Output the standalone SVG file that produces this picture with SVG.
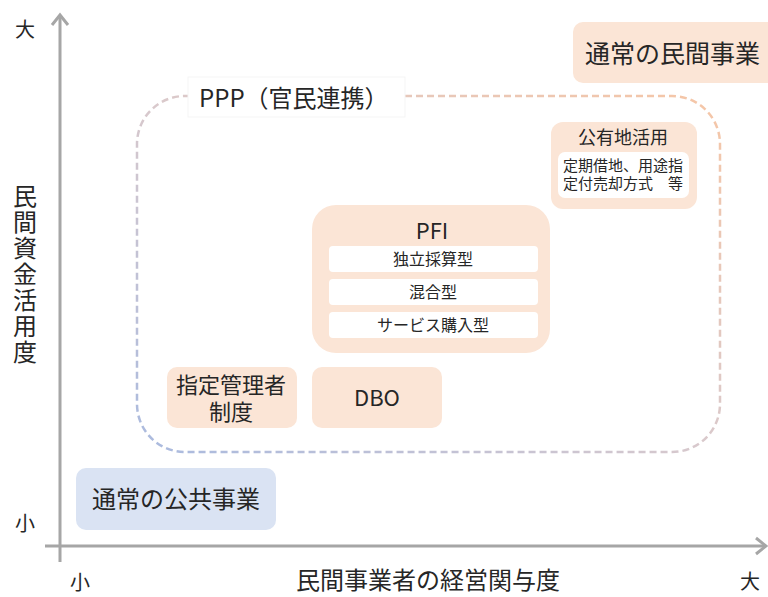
<svg xmlns="http://www.w3.org/2000/svg" width="768" height="597" viewBox="0 0 768 597">
<defs>
<style>
text{font-family:"Noto Sans CJK JP","Noto Sans",sans-serif;fill:#262626;}
.peach{fill:#fbe5d6;}
.blue{fill:#dae3f3;}
.white{fill:#ffffff;}
.axis{stroke:#a6a6a6;stroke-width:3;fill:none;}
.c{text-anchor:middle;}
</style>
<linearGradient id="pppGrad" x1="0" y1="1" x2="1" y2="0">
<stop offset="0" stop-color="#a9badf"/>
<stop offset="0.5" stop-color="#d9c9cc"/>
<stop offset="1" stop-color="#f6c6a6"/>
</linearGradient>
</defs>
<g id="connectors">
<line class="axis" x1="60" y1="562" x2="60" y2="15"/>
<polyline class="axis" points="52,25 60,15 68,25"/>
<line class="axis" x1="45" y1="546" x2="766" y2="546"/>
<polyline class="axis" points="756,538 766,546 756,554"/>
</g>
<g id="axis-labels">
<text x="25" y="37" class="c" font-size="20">大</text>
<text x="25" y="531" class="c" font-size="20">小</text>
<text x="80" y="590" class="c" font-size="20">小</text>
<text x="750" y="589" class="c" font-size="20">大</text>
<text x="428" y="589" class="c" font-size="24">民間事業者の経営関与度</text>
<text x="25" y="184" font-size="24" writing-mode="vertical-rl" letter-spacing="2">民間資金活用度</text>
</g>
<g id="ppp">
<rect x="137" y="96" width="583" height="356" rx="48" fill="none" stroke="url(#pppGrad)" stroke-width="2.5" stroke-dasharray="7,4"/>
<rect x="188" y="77" width="217" height="40" fill="#ffffff" stroke="#f5f5f5" stroke-width="1"/>
<text x="199" y="107" font-size="24">PPP（官民連携）</text>
</g>
<g id="private">
<rect class="peach" x="573" y="22" width="220" height="61" rx="10"/>
<text x="585" y="63" font-size="25">通常の民間事業</text>
</g>
<g id="public-land">
<rect class="peach" x="551" y="122" width="146" height="87" rx="12"/>
<text x="623" y="144" class="c" font-size="18">公有地活用</text>
<rect class="white" x="558" y="152" width="131" height="46" rx="7"/>
<text class="c" font-size="15"><tspan x="623" y="171">定期借地、用途指</tspan><tspan x="623" y="189">定付売却方式　等</tspan></text>
</g>
<g id="pfi">
<rect class="peach" x="312" y="205" width="238" height="148" rx="24"/>
<text x="432" y="239" class="c" font-size="22">PFI</text>
<rect class="white" x="329" y="246" width="209" height="26" rx="4"/>
<text x="433" y="265" class="c" font-size="16">独立採算型</text>
<rect class="white" x="329" y="279" width="209" height="26" rx="4"/>
<text x="433" y="298" class="c" font-size="16">混合型</text>
<rect class="white" x="329" y="312" width="209" height="26" rx="4"/>
<text x="433" y="331" class="c" font-size="16">サービス購入型</text>
</g>
<g id="designated">
<rect class="peach" x="167" y="367" width="130" height="61" rx="10"/>
<text class="c" font-size="22"><tspan x="231" y="393">指定管理者</tspan><tspan x="231" y="420">制度</tspan></text>
</g>
<g id="dbo">
<rect class="peach" x="312" y="367" width="130" height="61" rx="10"/>
<text x="377" y="406" class="c" font-size="22">DBO</text>
</g>
<g id="public">
<rect class="blue" x="76" y="468" width="200" height="62" rx="10"/>
<text x="176" y="508" class="c" font-size="24">通常の公共事業</text>
</g>
</svg>
